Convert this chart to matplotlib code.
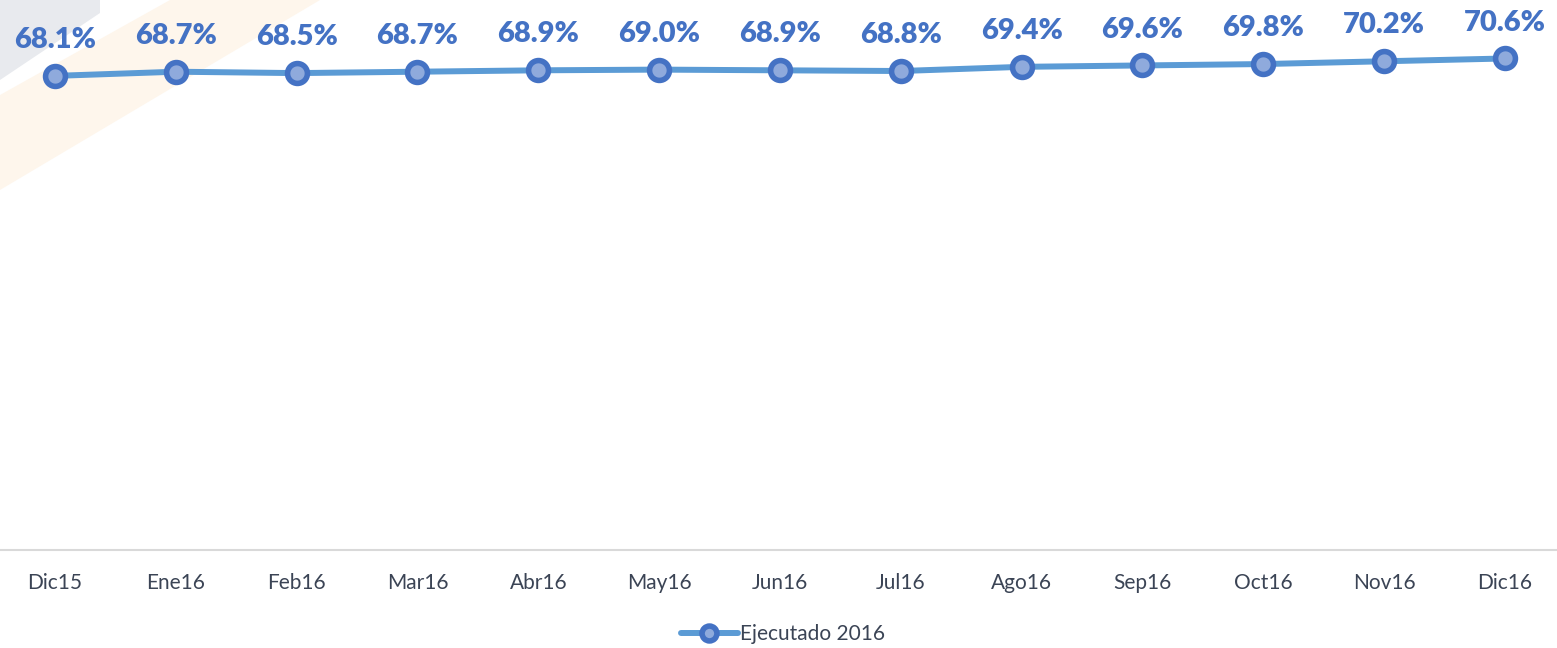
import matplotlib
matplotlib.use("Agg")
import matplotlib.pyplot as plt
from matplotlib.patches import Polygon

categories = ["Dic15", "Ene16", "Feb16", "Mar16", "Abr16", "May16", "Jun16",
              "Jul16", "Ago16", "Sep16", "Oct16", "Nov16", "Dic16"]
ejecutado = [68.1, 68.7, 68.5, 68.7, 68.9, 69.0, 68.9, 68.8, 69.4, 69.6, 69.8, 70.2, 70.6]
series_name = "Ejecutado 2016"

W, H = 1557, 648
fig = plt.figure(figsize=(W / 100, H / 100), dpi=100)

# faint watermark shapes in the background (top-left)
bg = fig.add_axes([0, 0, 1, 1], zorder=-5)
bg.set_xlim(0, W)
bg.set_ylim(H, 0)
bg.axis("off")
bg.add_patch(Polygon([[0, 0], [100, 0], [100, 13], [0, 80]], closed=True,
                     facecolor="#E8EAEE", edgecolor="none"))
bg.add_patch(Polygon([[170, 0], [320, 0], [0, 190], [0, 95]], closed=True,
                     facecolor="#FEF6EC", edgecolor="none"))

ax = fig.add_axes([0, (H - 550) / H, 1, 550 / H])
ax.patch.set_alpha(0)
x = list(range(len(categories)))
line, = ax.plot(x, ejecutado, color="#5B9BD5", lw=4.3, marker="o", ms=14.3, mew=4.0,
                mec="#4472C4", mfc="#8FAADC", label=series_name, zorder=3,
                solid_capstyle="round")

for xi, v in zip(x, ejecutado):
    ax.annotate(f"{v:.1f}%", (xi, v), xytext=(0, 16.5), textcoords="offset points",
                ha="center", va="bottom", fontsize=21, fontweight="heavy",
                color="#4472C4", family="Lato")

step = 1450 / 12
ax.set_xlim(-55 / step, 12 + 52 / step)
ax.set_ylim(0, 79)
ax.set_xticks(x)
ax.set_xticklabels(categories, fontsize=15, color="#3B4455", family="Lato")
ax.tick_params(axis="x", length=0, pad=16.5)
ax.set_yticks([])
for s in ["top", "left", "right"]:
    ax.spines[s].set_visible(False)
ax.spines["bottom"].set_color("#D9D9D9")
ax.spines["bottom"].set_linewidth(1.5)

leg = fig.legend(handles=[line], labels=[series_name], loc="center",
                 bbox_to_anchor=(783 / W, 1 - 634 / H), frameon=False,
                 prop={"family": "Lato", "size": 15}, handlelength=2.7,
                 handletextpad=0.1, markerscale=0.75)
for t in leg.get_texts():
    t.set_color("#3B4455")

fig.savefig("out.png", dpi=100)
